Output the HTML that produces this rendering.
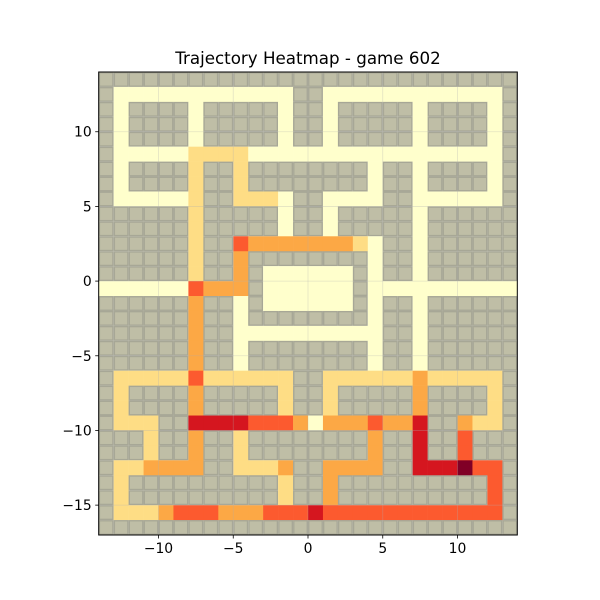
<!DOCTYPE html>
<html><head><meta charset="utf-8"><style>
body{margin:0;background:#fff}
svg{display:block;font-family:"DejaVu Sans","Liberation Sans",sans-serif}
</style></head><body>
<svg id="chart" width="600" height="600" viewBox="0 0 600 600">
<rect width="600" height="600" fill="#fff"/>
<text x="308" y="64" text-anchor="middle" font-size="16.7" fill="#000">Trajectory Heatmap - game 602</text>
<g id="cells"></g>
<g id="grid"></g>
<g id="axes"></g>
</svg>
<script>
// Maze rows (top to bottom). '#' wall, '.' unvisited, L unvisited, Y/O/R/D/K visit levels
const mazeRows = [
"############################",
"#............##............#",
"#.####.#####.##.#####.####.#",
"#.####.#####.##.#####.####.#",
"#.####.#####.##.#####.####.#",
"#.....YYYY.................#",
"#.####Y##Y########.##.####.#",
"#.####Y##Y########.##.####.#",
"#.....Y##YYY.##....##......#",
"######Y#####.##.#####.######",
"######Y#####.##.#####.######",
"######Y##ROOOOOOOY.##.######",
"######Y##O########.##.######",
"######Y##O#......#.##.######",
"......ROOO#......#..........",
"######O##.#......#.##.######",
"######O##.########.##.######",
"######O##..........##.######",
"######O##.########.##.######",
"######O##.########.##.######",
"#YYYYYRYYYYYY##YYYYYYOYYYYY#",
"#Y####O#####Y##Y#####O####Y#",
"#Y####O#####Y##Y#####O####Y#",
"#YYY##DDDDRRROLOOOROOD##OYY#",
"###Y##O##Y########O##D##R###",
"###Y##O##Y########O##D##R###",
"#YYOOOO##YYYO##OOOO##DDDKRR#",
"#Y##########Y##O##########R#",
"#Y##########Y##O##########R#",
"#YYYORRROOORRRDRRRRRRRRRRRR#",
"############################"
];
const levelCodes = [".","L","Y","O","R","D","K"];
const levelColors = ["#ffffcc","#ffffcc","#fedd85","#fca845","#fc5a2f","#d5161f","#800026"];
const xTicks = [-10,-5,0,5,10];
const yTicks = [10,5,0,-5,-10,-15];
const xMin=-14,xMax=14,yMin=-17,yMax=14;
const L=98.7,R=517.3,T=72,B=535;
const sx=v=>L+(v-xMin)/(xMax-xMin)*(R-L);
const sy=v=>B-(v-yMin)/(yMax-yMin)*(B-T);
const NS="http://www.w3.org/2000/svg";
const mk=(t,a)=>{const e=document.createElementNS(NS,t);for(const k in a)e.setAttribute(k,a[k]);return e;};
const cells=document.getElementById('cells');
mazeRows.forEach((row,r)=>{
  for(let c=0;c<row.length;c++){
    const ch=row[c];
    const x0=sx(xMin+c),x1=sx(xMin+c+1),y0=sy(yMax-r),y1=sy(yMax-r-1);
    let el;
    if(ch==='#'){
      el=mk('rect',{x:x0+0.7,y:y0+0.7,width:x1-x0-1.4,height:y1-y0-1.4,fill:'#bfbea6',stroke:'#a7a796','stroke-width':1.4});
      
    } else {
      const lv=levelCodes.indexOf(ch);
      el=mk('rect',{x:x0,y:y0,width:x1-x0+0.3,height:y1-y0+0.3,fill:levelColors[lv<0?0:lv]});
      
    }
    
    cells.appendChild(el);
  }
});
const grid=document.getElementById('grid');
xTicks.forEach(v=>{const l=mk('line',{x1:sx(v),x2:sx(v),y1:T,y2:B,stroke:'#b0b0b0','stroke-opacity':0.35,'stroke-width':0.8});

grid.appendChild(l);});
yTicks.forEach(v=>{const l=mk('line',{x1:L,x2:R,y1:sy(v),y2:sy(v),stroke:'#b0b0b0','stroke-opacity':0.35,'stroke-width':0.8});

grid.appendChild(l);});
const axes=document.getElementById('axes');
const frame=mk('rect',{x:L,y:T,width:R-L,height:B-T,fill:'none',stroke:'#000','stroke-width':1});


axes.appendChild(frame);
xTicks.forEach(v=>{
  const t=mk('line',{x1:sx(v),x2:sx(v),y1:B,y2:B+3.5,stroke:'#000','stroke-width':0.8});
  
  axes.appendChild(t);
  const tx=mk('text',{x:sx(v),y:B+18,'text-anchor':'middle','font-size':13.9,fill:'#000'});
  tx.textContent=v<0?'\u2212'+Math.abs(v):String(v);
  
  axes.appendChild(tx);
});
yTicks.forEach(v=>{
  const t=mk('line',{x1:L-3.5,x2:L,y1:sy(v),y2:sy(v),stroke:'#000','stroke-width':0.8});
  
  axes.appendChild(t);
  const tx=mk('text',{x:L-7,y:sy(v)+5,'text-anchor':'end','font-size':13.9,fill:'#000'});
  tx.textContent=v<0?'\u2212'+Math.abs(v):String(v);
  
  axes.appendChild(tx);
});
</script>
</body></html>
